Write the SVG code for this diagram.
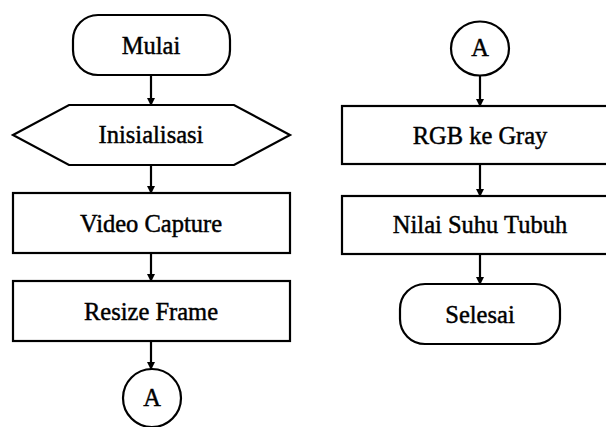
<svg xmlns="http://www.w3.org/2000/svg" width="606" height="427" viewBox="0 0 606 427">
<defs>
<style>
.s{fill:#fff;stroke:#000;stroke-width:2.2}
.t{font-family:"Liberation Serif","Times New Roman",serif;font-size:24.5px;fill:#000;stroke:#000;stroke-width:0.45;text-anchor:middle}
.c{stroke:#000;stroke-width:2.2;fill:none;marker-end:url(#ah)}
</style>
<marker id="ah" markerWidth="8" markerHeight="9" refX="7" refY="4.5" orient="auto" markerUnits="userSpaceOnUse">
<path d="M0,0.5 L8,4.5 L0,8.5 Z" fill="#000"/>
</marker>
</defs>
<rect width="606" height="427" fill="#fff"/>
<g id="connectors">
<line class="c" x1="151" y1="75" x2="151" y2="105"/>
<line class="c" x1="151" y1="165" x2="151" y2="193"/>
<line class="c" x1="151" y1="253" x2="151" y2="281"/>
<line class="c" x1="151" y1="341" x2="151" y2="369"/>
<line class="c" x1="480" y1="75" x2="480" y2="106"/>
<line class="c" x1="480" y1="164" x2="480" y2="196"/>
<line class="c" x1="480" y1="254" x2="480" y2="284"/>
</g>
<g id="mulai">
<rect class="s" x="73" y="15" width="157" height="60" rx="25" ry="25"/>
<text class="t" x="151" y="54">Mulai</text>
</g>
<g id="inisialisasi">
<polygon class="s" points="13,135 69,105 234,105 290,135 234,165 69,165"/>
<text class="t" x="151" y="143">Inisialisasi</text>
</g>
<g id="video-capture">
<rect class="s" x="13" y="193" width="277" height="60"/>
<text class="t" x="151" y="232">Video Capture</text>
</g>
<g id="resize-frame">
<rect class="s" x="13" y="281" width="277" height="60"/>
<text class="t" x="151" y="320">Resize Frame</text>
</g>
<g id="connector-a-out">
<circle class="s" cx="152" cy="398" r="29"/>
<text class="t" x="152" y="406">A</text>
</g>
<g id="connector-a-in">
<ellipse class="s" cx="480" cy="48.5" rx="29" ry="27"/>
<text class="t" x="480" y="56">A</text>
</g>
<g id="rgb-ke-gray">
<rect class="s" x="342" y="106" width="276" height="58"/>
<text class="t" x="480" y="144">RGB ke Gray</text>
</g>
<g id="nilai-suhu-tubuh">
<rect class="s" x="342" y="196" width="276" height="58"/>
<text class="t" x="480" y="233">Nilai Suhu Tubuh</text>
</g>
<g id="selesai">
<rect class="s" x="400" y="284" width="160" height="60" rx="25" ry="25"/>
<text class="t" x="480" y="323">Selesai</text>
</g>
</svg>
